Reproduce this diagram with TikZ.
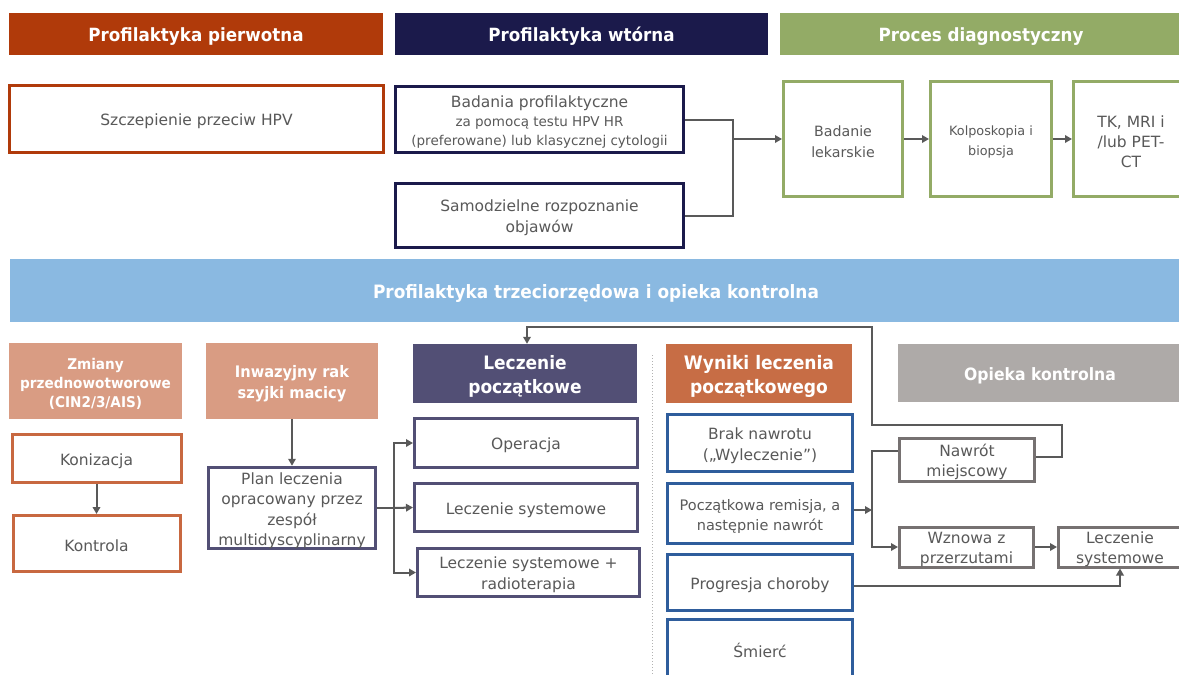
\documentclass[tikz,border=0pt]{standalone}
\usepackage{fontspec}
\setmainfont{DejaVu Sans}[BoldFeatures={FakeStretch=0.92}]
\usetikzlibrary{arrows.meta}
\definecolor{cP}{RGB}{176,58,10}
\definecolor{cW}{RGB}{27,26,75}
\definecolor{cD}{RGB}{147,171,102}
\definecolor{cBar}{RGB}{138,185,225}
\definecolor{cSal}{RGB}{217,156,131}
\definecolor{cL}{RGB}{82,79,117}
\definecolor{cWy}{RGB}{199,109,69}
\definecolor{cO}{RGB}{174,170,168}
\definecolor{cKon}{RGB}{200,104,64}
\definecolor{cBl}{RGB}{47,93,156}
\definecolor{cGr}{RGB}{118,113,113}
\definecolor{cArr}{RGB}{89,89,89}
\definecolor{cTxt}{RGB}{89,89,89}
\newcommand\myfs[2]{\fontsize{#1}{#2}\selectfont}
\newcommand\mylift{\rule{0pt}{\dimexpr0.76em+5pt\relax}}
\begin{document}
\begin{tikzpicture}[x=1pt,y=-1pt,
  hdr/.style={fill=#1, text=white, align=center, inner sep=0pt},
  bx/.style={draw=#1, line width=3pt, fill=white, text=cTxt, align=center, inner sep=0pt},
  conn/.style={draw=cArr, line width=2pt},
  arr/.style={conn, -{Triangle[length=7pt,width=7.5pt]}}]
\clip (0,0) rectangle (1179,675);
\fill[white] (0,0) rectangle (1179,675);
% top headers
\node[hdr=cP, minimum width=374, minimum height=42, font=\bfseries\myfs{18.2}{22}] (hP) at (196,34) {\mylift Profilaktyka pierwotna};
\node[hdr=cW, minimum width=373, minimum height=42, font=\bfseries\myfs{18.2}{22}] (hW) at (581.5,34) {\mylift Profilaktyka wtórna};
\node[hdr=cD, minimum width=402, minimum height=42, font=\bfseries\myfs{18.2}{22}] (hD) at (981,34) {\mylift Proces diagnostyczny};
% top boxes
\node[bx=cP, minimum width=374, minimum height=67, font=\myfs{15.5}{19}] (szcz) at (196.5,119) {\mylift Szczepienie przeciw HPV};
\node[bx=cW, minimum width=288, minimum height=66, font=\myfs{15.5}{19}] (bad) at (539.5,119.5) {\mylift Badania profilaktyczne\\\myfs{13.5}{19}za pomocą testu HPV HR\\\myfs{13.5}{19}(preferowane) lub klasycznej cytologii};
\node[bx=cW, minimum width=288, minimum height=64, font=\myfs{15.5}{21}] (samo) at (539.5,215.5) {\mylift Samodzielne rozpoznanie\\objawów};
\node[bx=cD, minimum width=119, minimum height=115, font=\myfs{14.2}{21}] (lek) at (843,139) {\mylift Badanie\\lekarskie};
\node[bx=cD, minimum width=121, minimum height=115, font=\myfs{12.8}{20}] (kolp) at (991,139) {\mylift Kolposkopia i\\biopsja};
\node[bx=cD, minimum width=115, minimum height=115, font=\myfs{15.5}{20}] (tk) at (1131,139) {\mylift TK, MRI i\\/lub PET-\\CT};
\coordinate (j1) at (733,139);
\draw[conn] (bad.east) -| (j1) |- (samo.east);
\draw[arr] (j1) -- (lek.west);
\draw[arr] (lek.east) -- (kolp.west);
\draw[arr] (kolp.east) -- (tk.west);
% bar
\node[hdr=cBar, minimum width=1172, minimum height=63, font=\bfseries\myfs{18.4}{22}] (bar) at (596,290.5) {\mylift Profilaktyka trzeciorzędowa i opieka kontrolna};
% bottom headers
\node[hdr=cSal, minimum width=173, minimum height=76, font=\bfseries\myfs{14.8}{19}] (hZ) at (95.5,381) {\mylift Zmiany\\przednowotworowe\\(CIN2/3/AIS)};
\node[hdr=cSal, minimum width=172, minimum height=76, font=\bfseries\myfs{15.9}{21}] (hI) at (292,381) {\mylift Inwazyjny rak\\szyjki macicy};
\node[hdr=cL, minimum width=224, minimum height=59, font=\bfseries\myfs{18.5}{24}] (hL) at (525,373.5) {\mylift Leczenie\\początkowe};
\node[hdr=cWy, minimum width=186, minimum height=59, font=\bfseries\myfs{18.6}{24}] (hWy) at (759,373.5) {\mylift Wyniki leczenia\\początkowego};
\node[hdr=cO, minimum width=284, minimum height=58, font=\bfseries\myfs{17}{22}] (hO) at (1040,373) {\mylift Opieka kontrolna};
% left column
\node[bx=cKon, minimum width=169, minimum height=48, font=\myfs{15.5}{19}] (koni) at (96.5,458.5) {\mylift Konizacja};
\node[bx=cKon, minimum width=167, minimum height=56, font=\myfs{15.5}{19}] (kontr) at (96.5,543.5) {\mylift Kontrola};
\draw[arr] (koni.south) -- (kontr.north);
% plan
\node[bx=cL, minimum width=167, minimum height=81, font=\myfs{15.5}{20.5}] (plan) at (292,508) {\mylift Plan leczenia\\opracowany przez\\zespół\\multidyscyplinarny};
\draw[arr] (hI.south) -- (plan.north);
% initial treatment
\node[bx=cL, minimum width=223, minimum height=49, font=\myfs{15.5}{19}] (oper) at (526,443) {\mylift Operacja};
\node[bx=cL, minimum width=223, minimum height=48, font=\myfs{15.5}{19}] (lsys) at (526,507.5) {\mylift Leczenie systemowe};
\node[bx=cL, minimum width=222, minimum height=48, font=\myfs{15.5}{21}] (lrad) at (528.5,572.5) {\mylift Leczenie systemowe +\\radioterapia};
\coordinate (j2) at (394,508);
\draw[conn] (plan.east) -- (j2);
\draw[arr] (j2) |- (oper.west);
\draw[arr] (j2) -- (lsys.west);
\draw[arr] (j2) |- (lrad.west);
% dotted separator
\draw[draw=black!30, line width=1pt, dotted] (652,355) -- (652,675);
% results
\node[bx=cBl, minimum width=185, minimum height=57, font=\myfs{15.5}{21}] (brak) at (760,443) {\mylift Brak nawrotu\\(„Wyleczenie”)};
\node[bx=cBl, minimum width=185, minimum height=60, font=\myfs{14.5}{20}] (pocz) at (760,513.5) {\mylift Początkowa remisja, a\\następnie nawrót};
\node[bx=cBl, minimum width=185, minimum height=56, font=\myfs{15.5}{19}] (prog) at (760,582.5) {\mylift Progresja choroby};
\node[bx=cBl, minimum width=185, minimum height=59, font=\myfs{15.5}{19}] (smierc) at (760,649) {\mylift Śmierć};
% follow-up
\node[bx=cGr, minimum width=135, minimum height=43, font=\myfs{15.5}{20}] (naw) at (967,460) {\mylift Nawrót\\miejscowy};
\node[bx=cGr, minimum width=134, minimum height=39, font=\myfs{15.5}{20}] (wzn) at (966.5,547) {\mylift Wznowa z\\przerzutami};
\node[bx=cGr, minimum width=123, minimum height=39, font=\myfs{15.5}{20}] (lsys2) at (1120,547) {\mylift Leczenie\\systemowe};
\coordinate (j3) at (872,510);
\draw[arr] ([yshift=3.5pt]pocz.east) -- (j3);
\draw[conn] ([yshift=9pt]naw.west) -| (j3);
\draw[arr] (j3) |- (wzn.west);
\draw[arr] (wzn.east) -- (lsys2.west);
\draw[arr] ([yshift=-3.5pt]prog.east) -| (lsys2.south);
\coordinate (f1) at (1062,425);
\coordinate (f2) at (872,327);
\draw[arr] ([yshift=3pt]naw.east) -| (f1) -| (f2) -| ([xshift=2pt]hL.north);
\end{tikzpicture}
\end{document}
